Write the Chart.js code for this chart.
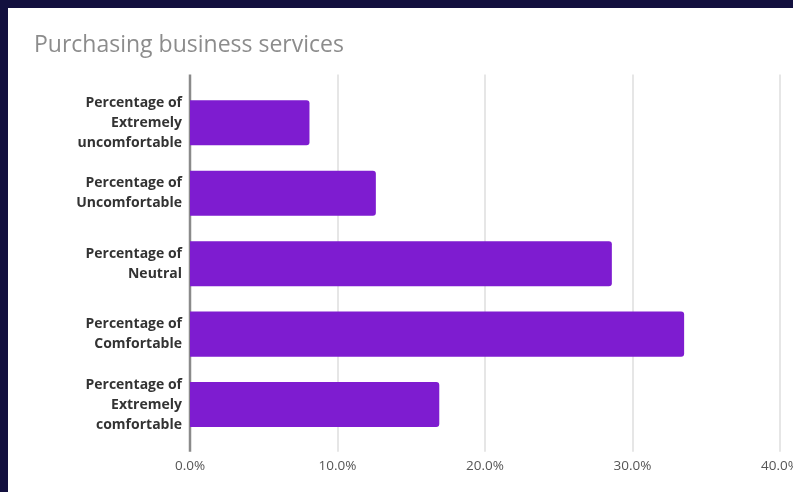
<!DOCTYPE html>
<html>
<head>
<meta charset="utf-8">
<script src="https://cdn.jsdelivr.net/npm/chart.js@4.4.1/dist/chart.umd.min.js"></script>
<style>
  html, body { margin: 0; padding: 0; background: #13103f; overflow: hidden; }
  #wrap { position: absolute; left: 8px; top: 8px; width: 820px; height: 484px; background: #fff; }
</style>
</head>
<body>
<div id="wrap"><canvas id="chart"></canvas></div>
<script>
const categories = [
  ['Percentage of', 'Extremely', 'uncomfortable'],
  ['Percentage of', 'Uncomfortable'],
  ['Percentage of', 'Neutral'],
  ['Percentage of', 'Comfortable'],
  ['Percentage of', 'Extremely', 'comfortable']
];
const shares = [8.1, 12.6, 28.6, 33.5, 16.9];
const tickValues = [0, 10, 20, 30, 40];

// vertical grid lines + the dark zero line, drawn a bit past the plot area
const gridLines = {
  id: 'gridLines',
  beforeDatasetsDraw(chart) {
    const { ctx, chartArea, scales } = chart;
    const top = chartArea.top - 13, bottom = chartArea.bottom + 12;
    ctx.save();
    tickValues.forEach(v => {
      const x = Math.round(scales.x.getPixelForValue(v));
      ctx.beginPath();
      if (v === 0) {
        ctx.strokeStyle = '#8a8a8a';
        ctx.lineWidth = 2.5;
      } else {
        ctx.strokeStyle = '#d6d6d6';
        ctx.lineWidth = 1.2;
      }
      ctx.moveTo(x, top);
      ctx.lineTo(x, bottom);
      ctx.stroke();
    });
    ctx.restore();
  }
};

new Chart(document.getElementById('chart'), {
  type: 'bar',
  data: {
    labels: categories,
    datasets: [{
      data: shares,
      backgroundColor: '#7e1cd0',
      borderRadius: { topRight: 3, bottomRight: 3 },
      borderSkipped: 'start',
      barPercentage: 0.8,
      categoryPercentage: 0.8
    }]
  },
  options: {
    indexAxis: 'y',
    responsive: true,
    maintainAspectRatio: false,
    animation: false,
    layout: { padding: { left: 26, right: 48, top: 0, bottom: 0 } },
    plugins: {
      legend: { display: false },
      tooltip: { enabled: false },
      title: {
        display: true,
        text: 'Purchasing business services',
        align: 'start',
        color: '#8c8c8c',
        font: { family: 'Open Sans', size: 23, weight: 'normal', lineHeight: 1.2 },
        padding: { top: 24, bottom: 28 }
      }
    },
    scales: {
      x: {
        min: 0,
        max: 40,
        afterBuildTicks(scale) {
          scale.ticks = tickValues.map(v => ({ value: v }));
        },
        grid: { display: false, drawTicks: false },
        border: { display: false },
        ticks: {
          padding: 18,
          color: '#555',
          font: { family: 'Open Sans', size: 13.5 },
          callback: v => v.toFixed(1) + '%'
        }
      },
      y: {
        afterFit(scale) { scale.width = 156; },
        grid: { display: false, drawTicks: false },
        border: { display: false },
        ticks: {
          padding: 8,
          color: '#333',
          font: { family: 'Open Sans', size: 14, weight: 'bold', lineHeight: 1.43 }
        }
      }
    }
  },
  plugins: [gridLines]
});
</script>
</body>
</html>
